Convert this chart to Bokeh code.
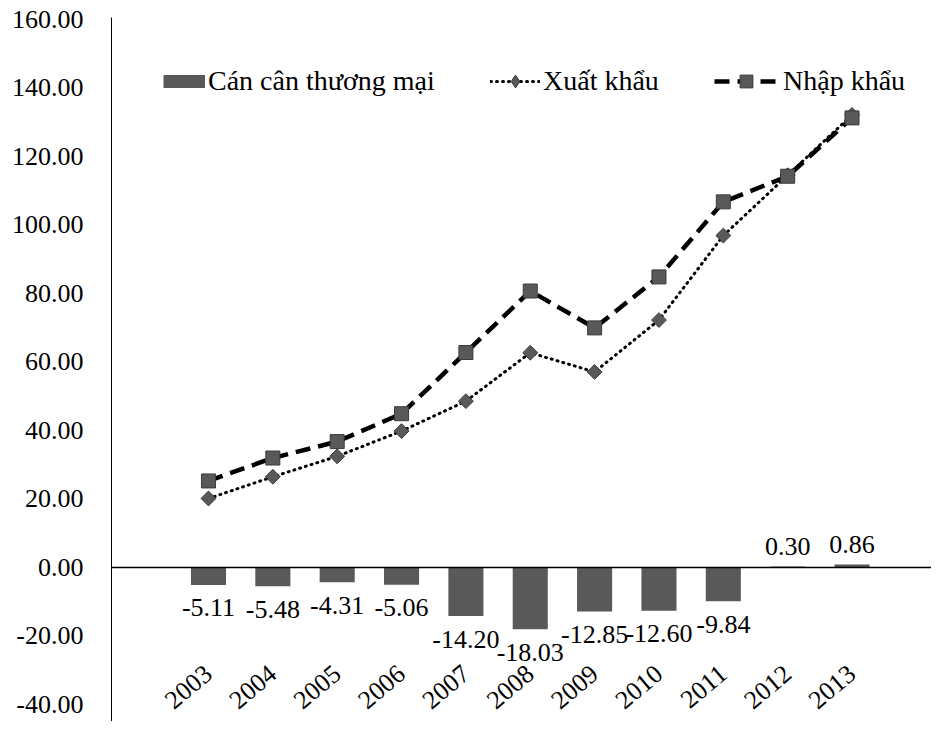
import math
from bokeh.plotting import figure
from bokeh.models import (Range1d, FixedTicker, PrintfTickFormatter, Span, Legend,
                          LegendItem, ColumnDataSource)
from bokeh.core.properties import value
from bokeh.embed import file_html
from bokeh.resources import INLINE

# ---- data ----
years = ["2003", "2004", "2005", "2006", "2007", "2008", "2009", "2010", "2011", "2012", "2013"]
can_can_thuong_mai = [-5.11, -5.48, -4.31, -5.06, -14.20, -18.03, -12.85, -12.60, -9.84, 0.30, 0.86]
xuat_khau = [20.15, 26.48, 32.45, 39.83, 48.56, 62.69, 57.10, 72.24, 96.91, 114.53, 132.13]
nhap_khau = [25.26, 31.96, 36.76, 44.89, 62.76, 80.72, 69.95, 84.84, 106.75, 114.23, 131.27]
y_ticks = [-40, -20, 0, 20, 40, 60, 80, 100, 120, 140, 160]

FONT = "Liberation Serif"
GRAY = "#595959"

idx = list(range(len(years)))
nan_col = [float("nan")] * len(years)
src = ColumnDataSource(dict(
    x=idx, year=years, bal=can_can_thuong_mai, xk=xuat_khau, nk=nhap_khau,
    ylab=[-30.0] * len(years), none=nan_col,
))
neg = [i for i, v in enumerate(can_can_thuong_mai) if v < 0]
pos = [i for i, v in enumerate(can_can_thuong_mai) if v >= 0]
src_neg = ColumnDataSource(dict(x=neg, y=[can_can_thuong_mai[i] for i in neg],
                                lbl=[f"{can_can_thuong_mai[i]:.2f}" for i in neg]))
src_pos = ColumnDataSource(dict(x=pos, y=[can_can_thuong_mai[i] for i in pos],
                                lbl=[f"{can_can_thuong_mai[i]:.2f}" for i in pos]))

p = figure(width=931, height=721, output_backend="svg", toolbar_location=None,
           x_range=Range1d(-1.507, 11.235), y_range=Range1d(-44.97, 160.58),
           min_border_left=111, min_border_right=0, min_border_top=17, min_border_bottom=0,
           x_axis_location=None)
p.outline_line_color = None
p.xgrid.visible = False
p.ygrid.visible = False
p.background_fill_color = "white"
p.border_fill_color = "white"

yax = p.yaxis[0]
yax.ticker = FixedTicker(ticks=y_ticks)
yax.formatter = PrintfTickFormatter(format="%.2f")
yax.major_tick_line_color = None
yax.minor_tick_line_color = None
yax.major_label_standoff = 22
yax.major_label_text_font = FONT
yax.major_label_text_font_size = "26px"
yax.major_label_text_color = "black"
yax.axis_line_color = "black"
yax.axis_line_width = 1

# zero (category) axis line
p.add_layout(Span(location=0, dimension="width", line_color="black", line_width=1.5))

# bars
p.vbar(x="x", top="bal", bottom=0, width=0.545, source=src, fill_color=GRAY, line_color=None)

# lines
xk_line = p.line("x", "xk", source=src, line_color="black", line_width=3,
                 line_dash="1 5", line_cap="round")
p.scatter("x", "xk", source=src, marker="square", angle=math.pi / 4, size=10.5,
          fill_color=GRAY, line_color="#3a3a3a", line_width=1)
nk_line = p.line("x", "nk", source=src, line_color="black", line_width=4.5, line_dash="15 8")
nk_pts = p.scatter("x", "nk", source=src, marker="square", size=14,
                   fill_color=GRAY, line_color="#3a3a3a", line_width=1)

# legend-only glyphs (no visible data marks)
bar_swatch = p.line("x", "none", source=src, line_color=GRAY, line_width=13, line_cap="butt")
xk_legend_pt = p.scatter("x", "none", source=src, marker="diamond", size=14,
                         fill_color=GRAY, line_color="#3a3a3a", line_width=1)

# data labels
p.text("x", "y", text="lbl", source=src_neg, text_font=value(FONT), text_font_size="26px",
       text_align="center", text_baseline="middle", y_offset=23, text_color="black")
p.text("x", "y", text="lbl", source=src_pos, text_font=value(FONT), text_font_size="26px",
       text_align="center", text_baseline="middle", y_offset=-20, text_color="black")

# year labels
p.text("x", "ylab", text="year", source=src, angle=math.radians(40), text_font=value(FONT),
       text_font_size="26px", text_align="right", text_baseline="middle", text_color="black")


def make_legend(items, x, gw, standoff):
    lg = Legend(items=items, location=(x, 624), orientation="horizontal",
                padding=0, margin=0, glyph_width=gw, glyph_height=32,
                label_standoff=standoff, label_text_font=FONT,
                label_text_font_size="28px", label_text_color="black",
                border_line_alpha=0, background_fill_alpha=0)
    p.add_layout(lg, "center")


make_legend([LegendItem(label="Cán cân thương mại", renderers=[bar_swatch])], 52, 42, 3)
make_legend([LegendItem(label="Xuất khẩu", renderers=[xk_line, xk_legend_pt])], 379, 50, 3)
make_legend([LegendItem(label="Nhập khẩu", renderers=[nk_line, nk_pts])], 603, 64, 5)

open("out.html", "w").write(file_html(p, INLINE))
